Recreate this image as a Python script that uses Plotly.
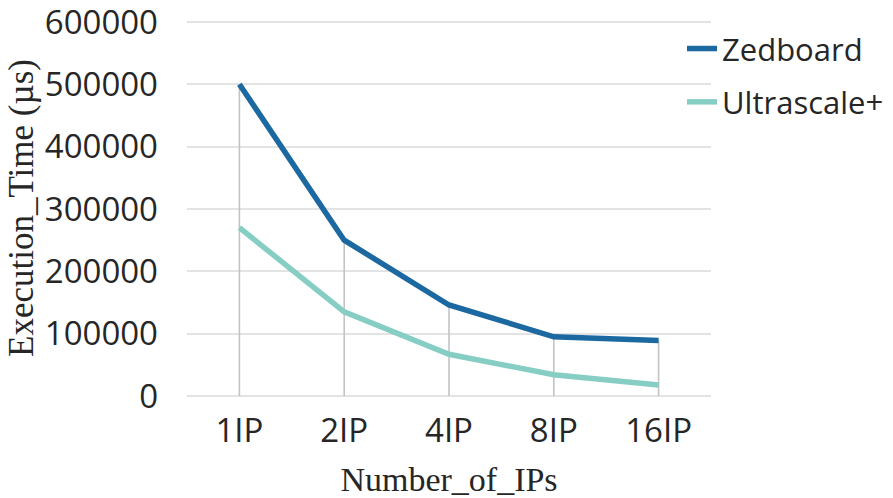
import plotly.graph_objects as go

categories = ["1IP", "2IP", "4IP", "8IP", "16IP"]
zedboard = [500000, 250000, 146000, 95000, 89000]
ultrascale = [270000, 135000, 67000, 34000, 17500]
y_ticks = [0, 100000, 200000, 300000, 400000, 500000, 600000]

TICK_FONT = "Open Sans"
TITLE_FONT = "Liberation Serif"
TXT = "#262626"

fig = go.Figure()

# drop lines from the highest point of each category down to zero
drop_x, drop_y = [], []
for c, a, b in zip(categories, zedboard, ultrascale):
    drop_x += [c, c, None]
    drop_y += [max(a, b), 0, None]
fig.add_trace(go.Scatter(x=drop_x, y=drop_y, mode="lines",
                         line=dict(color="#c3c3c3", width=1.6),
                         showlegend=False, hoverinfo="skip"))

fig.add_trace(go.Scatter(x=categories, y=zedboard, name="Zedboard", mode="lines",
                         legendgroup="z", line=dict(color="#1c69a2", width=5.5)))
fig.add_trace(go.Scatter(x=categories, y=ultrascale, name="Ultrascale+", mode="lines",
                         legendgroup="u", line=dict(color="#86cec4", width=5.5)))

fig.update_layout(
    width=893, height=498,
    margin=dict(l=187, r=182, t=20, b=102, autoexpand=False),
    paper_bgcolor="white", plot_bgcolor="white",
    showlegend=True,
    legend=dict(x=0.9447, xanchor="left", y=0.995, yanchor="top",
                font=dict(family=TICK_FONT, size=31, color=TXT),
                tracegroupgap=10, itemwidth=30, bgcolor="rgba(0,0,0,0)"),
    xaxis=dict(type="category", categoryorder="array", categoryarray=categories,
               range=[-0.5, 4.5], showgrid=False, zeroline=False, showline=False,
               automargin=False,
               ticks="", tickfont=dict(family=TICK_FONT, size=33, color=TXT),
               ticklabelstandoff=12,
               title=dict(text="Number_of_IPs", font=dict(family=TITLE_FONT, size=34, color=TXT),
                          standoff=16)),
    yaxis=dict(range=[0, 603200], tickvals=y_ticks, ticktext=[str(v) for v in y_ticks],
               showgrid=True, gridcolor="#e3e3e3", gridwidth=1.6,
               zeroline=True, zerolinecolor="#e3e3e3", zerolinewidth=1.6,
               showline=False, ticks="", automargin=False,
               ticklabeloverflow="allow",
               tickfont=dict(family=TICK_FONT, size=33, color=TXT),
               ticklabelstandoff=28,
               title=dict(text="Execution_Time (µs)", font=dict(family=TITLE_FONT, size=35, color=TXT),
                          standoff=0)),
)

fig.write_html("out.html")
